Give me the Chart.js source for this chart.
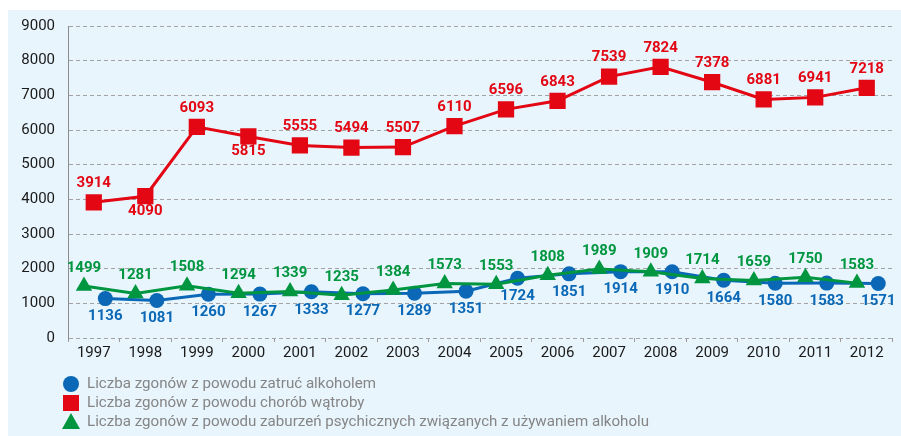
<!DOCTYPE html>
<html><head><meta charset="utf-8">
<script src="https://cdn.jsdelivr.net/npm/chart.js@4"></script>
<style>html,body{margin:0;padding:0;overflow:hidden;background:#fff}#wrap{width:904px;height:436px;position:relative}</style>
</head><body><div id="wrap"><canvas id="c" width="904" height="436"></canvas></div>
<script>
// ---- data ----
const years = ['1997','1998','1999','2000','2001','2002','2003','2004','2005','2006','2007','2008','2009','2010','2011','2012'];
const poisoning = [1136,1081,1260,1267,1333,1277,1289,1351,1724,1851,1914,1910,1664,1580,1583,1571];
const liver = [3914,4090,6093,5815,5555,5494,5507,6110,6596,6843,7539,7824,7378,6881,6941,7218];
const mental = [1499,1281,1508,1294,1339,1235,1384,1573,1553,1808,1989,1909,1714,1659,1750,1583];
const seriesNames = [
  'Liczba zgonów z powodu zatruć alkoholem',
  'Liczba zgonów z powodu chorób wątroby',
  'Liczba zgonów z powodu zaburzeń psychicznych związanych z używaniem alkoholu'
];
// label placement (style)
const liverLabelPos = ['above','below','above','below','above','above','above','above','above','above','above','above','above','above','above','above'];

const BLUE = '#0a68b6', RED = '#e30613', GREEN = '#009640';

const toPts = (arr, off) => arr.map((v, i) => ({x: i + off, y: v}));

const bgPlugin = {
  id: 'bg',
  beforeDraw(chart) {
    const c = chart.ctx;
    c.save(); c.fillStyle = '#e8f5fd';
    c.fillRect(8, 10, chart.width - 8, chart.height - 10);
    c.restore();
  }
};

const labelPlugin = {
  id: 'vlabels',
  afterDatasetsDraw(chart) {
    const c = chart.ctx;
    c.save();
    c.font = 'bold 15px Roboto';
    c.textAlign = 'center';
    c.textBaseline = 'middle';
    chart.data.datasets.forEach((ds, di) => {
      const meta = chart.getDatasetMeta(di);
      c.fillStyle = ds.borderColor;
      meta.data.forEach((pt, i) => {
        const pos = ds.labelPos ? ds.labelPos[i] : ds.labelDefault;
        const dy = pos === 'below' ? ds.labelBelow : -ds.labelAbove;
        c.fillText(String(ds.data[i].y), pt.x, pt.y + dy);
      });
    });
    c.restore();
  }
};

function drawMarker(c, style, x, y, color) {
  c.fillStyle = color;
  c.beginPath();
  if (style === 'circle') { c.arc(x, y, 8, 0, Math.PI * 2); }
  else if (style === 'rect') { c.rect(x - 8, y - 8, 16, 16); }
  else { c.moveTo(x, y - 9); c.lineTo(x + 9, y + 7); c.lineTo(x - 9, y + 7); c.closePath(); }
  c.fill();
}

const legendPlugin = {
  id: 'mylegend',
  afterDraw(chart) {
    const c = chart.ctx;
    c.save();
    // size the legend font so the longest entry spans ~562px, as in the reference
    c.font = '14px Roboto';
    const longest = Math.max(...chart.data.datasets.map(d => c.measureText(d.label).width));
    const fs = Math.min(16, Math.max(13, 14 * 562 / longest));
    c.font = fs.toFixed(2) + 'px Roboto';
    c.textBaseline = 'middle';
    c.textAlign = 'left';
    const rows = [384, 403, 422];
    chart.data.datasets.forEach((ds, i) => {
      drawMarker(c, ds.pointStyle, 71, rows[i], ds.borderColor);
      c.fillStyle = '#858585';
      c.fillText(ds.label, 87, rows[i]);
    });
    c.restore();
  }
};

new Chart(document.getElementById('c'), {
  type: 'line',
  data: {
    labels: years,
    datasets: [
      { label: seriesNames[0], data: toPts(poisoning, 0.224), xAxisID: 'xd', borderColor: BLUE, backgroundColor: BLUE,
        pointStyle: 'circle', pointRadius: 7.5, pointBorderWidth: 0, borderWidth: 3, order: 2,
        labelDefault: 'below', labelBelow: 18, labelAbove: 18 },
      { label: seriesNames[1], data: toPts(liver, 0), xAxisID: 'xd', borderColor: RED, backgroundColor: RED,
        pointStyle: 'rect', pointRadius: 11.5, pointBorderWidth: 0, borderWidth: 3, order: 1,
        labelPos: liverLabelPos, labelBelow: 15, labelAbove: 19 },
      { label: seriesNames[2], data: toPts(mental, -0.19), xAxisID: 'xd', borderColor: GREEN, backgroundColor: GREEN,
        pointStyle: 'triangle', pointRadius: 9.5, pointBorderWidth: 0, borderWidth: 3, order: 0,
        labelDefault: 'above', labelBelow: 18, labelAbove: 18 }
    ]
  },
  options: {
    responsive: false,
    animation: false,
    layout: { padding: { top: 26, bottom: 74, left: 0, right: 0 } },
    plugins: { legend: { display: false }, tooltip: { enabled: false } },
    elements: { line: { tension: 0 } },
    scales: {
      x: {
        type: 'category', labels: years, offset: true,
        grid: { offset: true, drawOnChartArea: false, drawTicks: true, tickLength: 4, color: '#9a9a9a' },
        border: { display: false },
        ticks: { font: { family: 'Roboto', size: 15 }, color: '#1a1a1a', padding: 2, maxRotation: 0, autoSkip: false },
        afterFit: s => { s.height = 24; }
      },
      xd: { type: 'linear', min: -0.5, max: 15.5, display: false },
      y: {
        min: 0, max: 9000,
        ticks: { stepSize: 1000, padding: 13, font: { family: 'Roboto', size: 15 }, color: '#1a1a1a',
                 callback: v => String(v) },
        grid: { color: '#a3a3a3', drawTicks: false, lineWidth: 1 },
        border: { display: true, color: '#8c8c8c', width: 1, dash: [4, 3] },
        afterFit: s => { s.width = 68; }
      }
    }
  },
  plugins: [bgPlugin, labelPlugin, legendPlugin]
});
</script></body></html>
